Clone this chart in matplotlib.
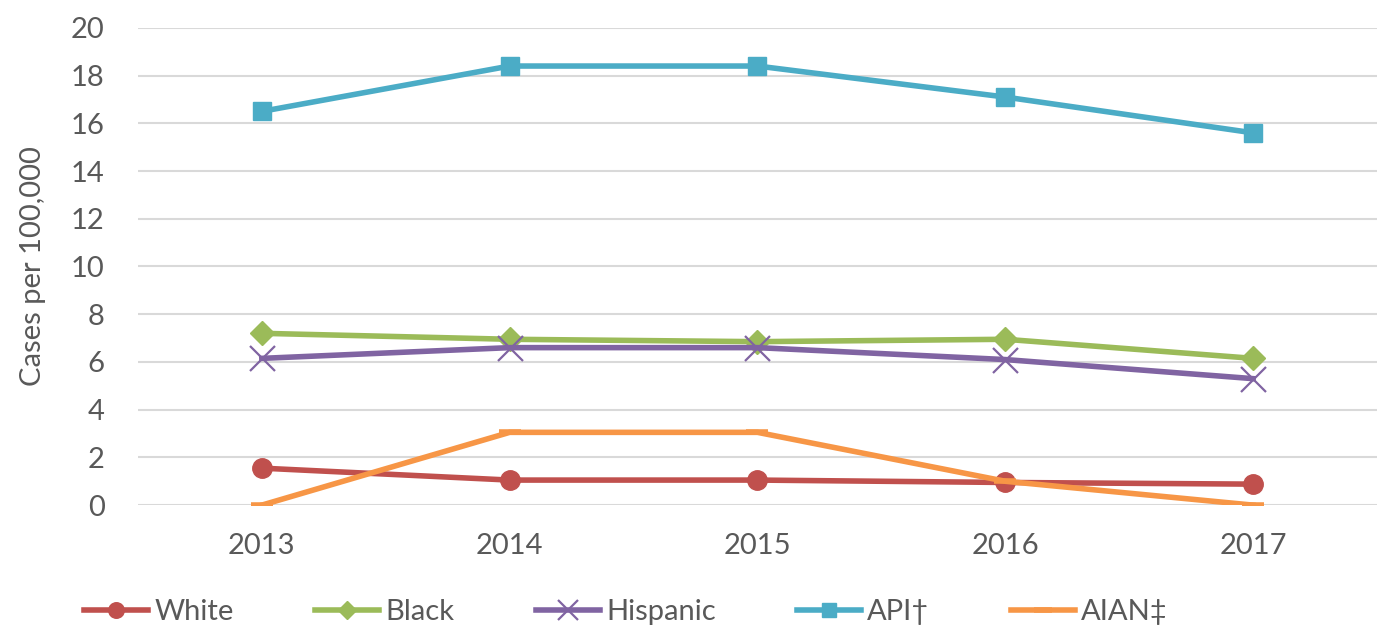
"""Cases per 100,000 by race/ethnicity, 2013-2017"""
import matplotlib.pyplot as plt

plt.rcParams['font.family'] = ['Lato', 'DejaVu Sans']

years = ['2013', '2014', '2015', '2016', '2017']
white = [1.55, 1.05, 1.05, 0.95, 0.88]
black = [7.2, 6.95, 6.85, 6.95, 6.15]
hispanic = [6.15, 6.6, 6.6, 6.1, 5.3]
api = [16.5, 18.4, 18.4, 17.1, 15.6]
aian = [0.0, 3.05, 3.05, 1.0, 0.0]

text_color = '#595959'

fig = plt.figure(figsize=(13.79, 6.33), dpi=100)
ax = fig.add_axes([0.1, 0.202, 0.8986, 0.754])

x = range(len(years))
ax.plot(x, white, color='#C0504D', lw=4, marker='o', ms=14, label='White')
ax.plot(x, black, color='#9BBB59', lw=4, marker='D', ms=12, label='Black')
ax.plot(x, hispanic, color='#8064A2', lw=4, marker='x', ms=18, mew=1.6,
        label='Hispanic')
ax.plot(x, api, color='#4BACC6', lw=4, marker='s', ms=13, label='API†')
ax.plot(x, aian, color='#F79646', lw=4, marker='_', ms=16, mew=4,
        label='AIAN‡')

ax.set_xlim(-0.5, 4.5)
ax.set_ylim(0, 20)
ax.set_yticks(range(0, 21, 2))
ax.set_xticks(list(x))
ax.set_xticklabels(years)
ax.grid(axis='y', color='#D9D9D9', lw=1.5)
ax.set_axisbelow(True)
for side in ['top', 'right', 'left', 'bottom']:
    ax.spines[side].set_visible(False)
ax.tick_params(length=0, labelsize=21, colors=text_color)
ax.tick_params(axis='x', pad=20)
ax.tick_params(axis='y', pad=24)
ax.set_ylabel('Cases per 100,000', fontsize=21, color=text_color, labelpad=18)

ax.legend(loc='center', bbox_to_anchor=(0.454, 0.033),
          bbox_transform=fig.transFigure, ncol=5, frameon=False,
          fontsize=21, labelcolor=text_color, handlelength=2.2,
          handletextpad=0.2, columnspacing=2.8, markerscale=0.8)

fig.savefig('out.png', dpi=100)
